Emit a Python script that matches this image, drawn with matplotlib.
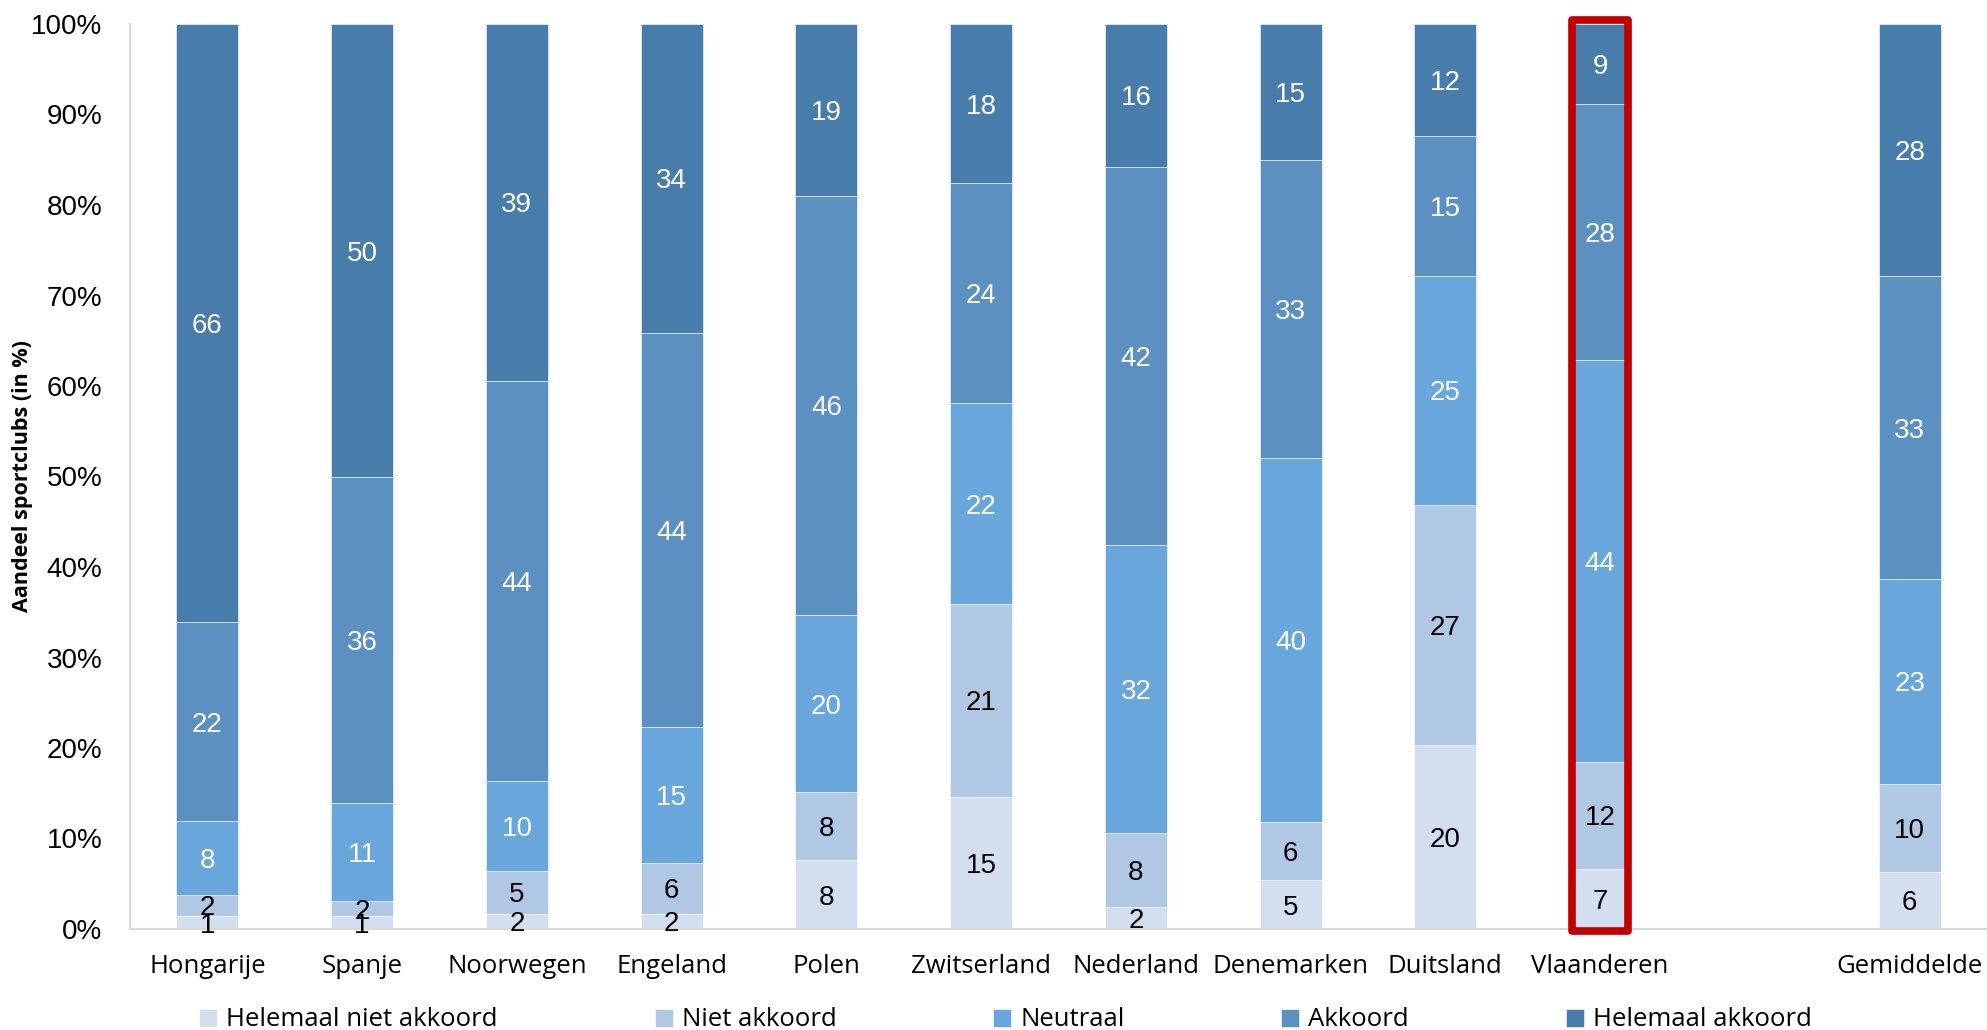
import matplotlib
matplotlib.use("Agg")
import matplotlib.pyplot as plt
from matplotlib.patches import Rectangle
import numpy as np

categories = ["Hongarije", "Spanje", "Noorwegen", "Engeland", "Polen", "Zwitserland",
              "Nederland", "Denemarken", "Duitsland", "Vlaanderen", "Gemiddelde"]
series_names = ["Helemaal niet akkoord", "Niet akkoord", "Neutraal", "Akkoord", "Helemaal akkoord"]

helemaal_niet_akkoord = [1.4, 1.4, 1.7, 1.7, 7.6, 14.6, 2.4, 5.4, 20.3, 6.6, 6.3]
niet_akkoord          = [2.4, 1.7, 4.7, 5.6, 7.5, 21.3, 8.2, 6.4, 26.6, 11.9, 9.7]
neutraal              = [8.1, 10.8, 10.0, 15.0, 19.6, 22.2, 31.8, 40.2, 25.3, 44.4, 22.7]
akkoord               = [22.0, 36.0, 44.2, 43.6, 46.3, 24.3, 41.8, 33.0, 15.4, 28.3, 33.4]
helemaal_akkoord      = [66.1, 50.1, 39.4, 34.1, 19.0, 17.6, 15.8, 15.0, 12.4, 8.8, 27.9]

highlight = "Vlaanderen"

series = [helemaal_niet_akkoord, niet_akkoord, neutraal, akkoord, helemaal_akkoord]
colors = ["#D3DFEF", "#B1C8E4", "#68A6DC", "#5B90C0", "#487CAB"]
label_colors = ["black", "black", "white", "white", "white"]

fig = plt.figure(figsize=(19.87, 10.30), dpi=100)
ax = fig.add_axes([130/1987, 1-929/1030, 1-130/1987, (929-24)/1030])

# positions: leave an empty slot before the average
x = np.array(list(range(len(categories) - 1)) + [len(categories)], dtype=float)
width = 0.40

bottom = np.zeros(len(categories))
for vals, col, lc, name in zip(series, colors, label_colors, series_names):
    vals = np.array(vals, dtype=float)
    ax.bar(x, vals, width, bottom=bottom, color=col, label=name,
           edgecolor="#FFFFFF", linewidth=0.4, zorder=2)
    for xi, b, v in zip(x, bottom, vals):
        ax.text(xi, b + v / 2, f"{v:.0f}", ha="center", va="center_baseline",
                color=lc, fontsize=20, family="Liberation Sans", zorder=4)
    bottom += vals

# highlight rectangle
hi = categories.index(highlight)
ax.add_patch(Rectangle((x[hi] - width / 2 + 0.02, -0.2), width - 0.04, 100.6,
                       fill=False, edgecolor="#C00000", linewidth=5.5,
                       joinstyle="round", clip_on=False, zorder=5))

ax.set_xlim(-0.5, len(categories) + 0.5)
ax.set_ylim(0, 100)
ax.set_yticks(np.arange(0, 101, 10))
ax.set_yticklabels([f"{v}%" for v in range(0, 101, 10)], fontsize=20, family="Liberation Sans")
ax.set_xticks(x)
ax.set_xticklabels(categories, fontsize=18.5, family="Open Sans")
ax.tick_params(axis="y", length=0, pad=20)
ax.tick_params(axis="x", length=0, pad=18)

for s in ["top", "right"]:
    ax.spines[s].set_visible(False)
for s in ["left", "bottom"]:
    ax.spines[s].set_color("#D9D9D9")
    ax.spines[s].set_linewidth(1.5)

ax.set_ylabel("Aandeel sportclubs (in %)", fontsize=15.5, fontweight="bold",
              family="Open Sans")
ax.yaxis.set_label_coords(-0.052, 0.5)

leg = fig.legend(loc="center", bbox_to_anchor=(0.506, 1 - 1020/1030), ncol=5,
                 frameon=False, prop={"family": "Open Sans", "size": 18.5},
                 handlelength=0.7, handleheight=0.7, handletextpad=0.35,
                 columnspacing=6.1, borderaxespad=0)

fig.savefig("out.png", dpi=100)
